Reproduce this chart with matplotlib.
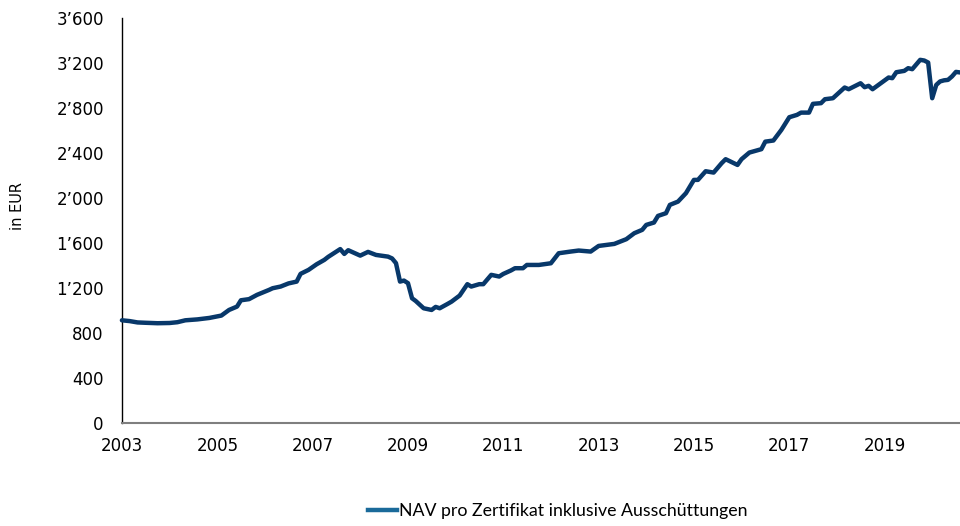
import pandas as pd
import matplotlib
matplotlib.use("Agg")
import matplotlib.pyplot as plt
from matplotlib.ticker import FuncFormatter, MultipleLocator
import matplotlib.dates as mdates

# NAV per certificate incl. distributions
months = [
    "2003-01", "2003-03", "2003-05", "2003-07", "2003-10", "2004-01", "2004-03",
    "2004-05", "2004-08", "2004-11", "2005-02", "2005-04", "2005-06", "2005-07",
    "2005-09", "2005-11", "2006-02", "2006-03", "2006-05", "2006-07", "2006-09",
    "2006-10", "2006-12", "2007-02", "2007-04", "2007-05", "2007-08", "2007-09",
    "2007-10", "2008-01", "2008-03", "2008-05", "2008-08", "2008-09", "2008-10",
    "2008-11", "2008-12", "2009-01", "2009-02", "2009-03", "2009-05", "2009-07",
    "2009-08", "2009-09", "2009-11", "2009-12", "2010-02", "2010-04", "2010-05",
    "2010-07", "2010-08", "2010-10", "2010-12", "2011-01", "2011-03", "2011-04",
    "2011-06", "2011-07", "2011-10", "2012-01", "2012-03", "2012-06", "2012-08",
    "2012-11", "2013-01", "2013-05", "2013-08", "2013-10", "2013-12", "2014-01",
    "2014-03", "2014-04", "2014-06", "2014-07", "2014-09", "2014-11", "2015-01",
    "2015-02", "2015-04", "2015-06", "2015-08", "2015-09", "2015-12", "2016-01",
    "2016-03", "2016-06", "2016-07", "2016-09", "2016-11", "2017-01", "2017-03",
    "2017-04", "2017-06", "2017-07", "2017-09", "2017-10", "2017-12", "2018-03",
    "2018-04", "2018-07", "2018-08", "2018-09", "2018-10", "2019-02", "2019-03",
    "2019-04", "2019-06", "2019-07", "2019-08", "2019-10", "2019-11", "2019-12",
    "2020-01", "2020-02", "2020-03", "2020-04", "2020-05", "2020-06", "2020-07",
    "2020-08",
]
nav = [
    912, 905, 893, 890, 886, 888, 895,
    912, 920, 933, 954, 1004, 1034, 1090,
    1100, 1138, 1182, 1197, 1212, 1240, 1256,
    1325, 1360, 1410, 1449, 1476, 1545, 1502,
    1535, 1487, 1520, 1493, 1478, 1462, 1420,
    1256, 1265, 1242, 1108, 1084, 1019, 1004,
    1031, 1019, 1058, 1078, 1132, 1233, 1212,
    1233, 1233, 1316, 1301, 1324, 1355, 1375,
    1375, 1404, 1404, 1419, 1508, 1523, 1532,
    1523, 1573, 1591, 1633, 1686, 1716, 1760,
    1781, 1840, 1864, 1938, 1967, 2042, 2160,
    2160, 2237, 2225, 2308, 2344, 2293, 2344,
    2403, 2433, 2500, 2510, 2604, 2717, 2738,
    2758, 2758, 2836, 2842, 2877, 2886, 2981,
    2966, 3019, 2984, 2996, 2966, 3070, 3064,
    3117, 3129, 3153, 3144, 3227, 3221, 3203,
    2886, 3004, 3035, 3045, 3049, 3080, 3120,
    3115,
]
series_name = "NAV pro Zertifikat inklusive Ausschüttungen"
tick_years = list(range(2003, 2021, 2))

dates = pd.to_datetime(months)

fig = plt.figure(figsize=(9.6, 5.26), dpi=100)
ax = fig.add_axes([0.127, 0.196, 0.873, 0.770])

ax.plot(dates, nav, color="#08386a", lw=3.2, solid_joinstyle="round",
        solid_capstyle="round", clip_on=False, zorder=3)

ax.set_ylim(0, 3600)
ax.yaxis.set_major_locator(MultipleLocator(400))
ax.yaxis.set_major_formatter(FuncFormatter(lambda v, p: f"{int(v):,}".replace(",", "\u2019")))
ax.set_xlim(dates[0], dates[-1])
ax.set_xticks(pd.to_datetime([f"{y}-01-01" for y in tick_years]))
ax.xaxis.set_major_formatter(mdates.DateFormatter("%Y"))

for s in ["top", "right"]:
    ax.spines[s].set_visible(False)
ax.spines["left"].set_color("black")
ax.spines["left"].set_linewidth(1.0)
ax.spines["bottom"].set_color("#7f7f7f")
ax.spines["bottom"].set_linewidth(1.5)
ax.tick_params(axis="both", length=0, labelsize=12, colors="black")
ax.tick_params(axis="y", pad=13)
ax.tick_params(axis="x", pad=10)

fig.text(18 / 960, 1 - 206 / 526, "in EUR", rotation=90, fontsize=10.5,
         ha="center", va="center")

handle = plt.Line2D([], [], color="#1a6a9a", lw=3.2)
fig.legend([handle], [series_name], loc="center", bbox_to_anchor=(0.581, 0.0285),
           frameon=False, handlelength=1.65, handletextpad=0.12,
           prop={"family": "Lato", "size": 12.8})

fig.savefig("out.png", dpi=100)
